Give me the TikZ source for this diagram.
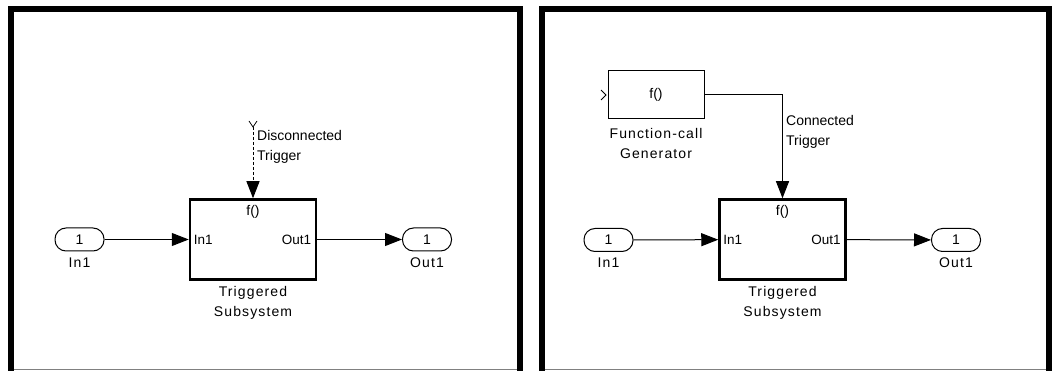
\documentclass[tikz,border=0pt]{standalone}
\usepackage{fontspec}
\setmainfont{Liberation Sans}
\newfontfamily\blockfont{Liberation Sans}[LetterSpace=8]
\usetikzlibrary{arrows.meta}
\tikzset{port/.style = {draw, line width=1pt, rounded corners=11pt,
                        minimum width=49pt, minimum height=23pt, inner sep=0}}
\tikzset{subsys/.style = {draw, line width=2.5pt, minimum width=126pt,
                          minimum height=80pt, inner sep=0}}
\tikzset{fcgbox/.style = {draw, line width=1pt, minimum width=96pt,
                          minimum height=48pt, inner sep=0}}
\tikzset{sig/.style = {line width=1pt, -{Triangle[length=17pt,width=13pt]}}}
\tikzset{panel/.style = {line width=6pt}}
\tikzset{lbl/.style = {font=\fontsize{14}{20}\selectfont, inner sep=1pt}}
\tikzset{blbl/.style = {font=\blockfont\fontsize{14}{20}\selectfont, inner sep=1pt}}
\tikzset{plbl/.style = {font=\fontsize{13.5}{16}\selectfont, inner sep=5pt}}

\begin{document}
\begin{tikzpicture}[x=1pt, y=-1pt]
    \useasboundingbox (0, 0) rectangle (1055, 371);
    % frames
    \draw [panel] (11, 380) -- (11, 9) -- (520, 9) -- (520, 380);
    \draw [gray, line width=1pt] (14, 369.5) -- (517, 369.5);
    \draw [panel] (542, 380) -- (542, 9) -- (1049, 9) -- (1049, 380);
    \draw [gray, line width=1pt] (545, 369.5) -- (1046, 369.5);

    % left: disconnected trigger
    \node [port, lbl] (inL) at (79.5, 239.5) {1};
    \node [blbl] (inLlab) at (79.5, 263) {In1};
    \node [subsys] (subL) at (253, 239.5) {};
    \node [plbl, anchor=west] (subLin) at (subL.west) {In1};
    \node [plbl, anchor=east, inner xsep=6pt] (subLout) at (subL.east) {Out1};
    \node [lbl] (subLf) at (253, 212) {f()};
    \node [blbl, align=center] (subLlab) at (253, 303) {Triggered\\Subsystem};
    \node [port, lbl] (outL) at (427, 239.5) {1};
    \node [blbl] (outLlab) at (427, 263) {Out1};
    \draw [sig] (inL) -- (subL);
    \draw [sig] (subL) -- (outL);
    \coordinate (trigL) at (253, 127);
    \draw [line width=0.8pt] (249, 121) -- (trigL) -- (257, 121);
    \draw [sig, dash pattern=on 3pt off 2pt] (trigL) -- (subL.north);
    \node [lbl, anchor=west, align=left] (trigLlab) at (256, 147) {Disconnected\\Trigger};

    % right: connected trigger
    \node [fcgbox, lbl] (fcg) at (656, 95) {f()};
    \draw [line width=0.8pt] (601, 90) -- (606, 95) -- (601, 100);
    \node [blbl, align=center] (fcglab) at (656, 143) {Function-call\\Generator};
    \node [port, lbl] (inR) at (608.5, 240) {1};
    \node [blbl] (inRlab) at (608.5, 263) {In1};
    \node [subsys] (subR) at (782.5, 239.5) {};
    \node [plbl, anchor=west] (subRin) at (subR.west) {In1};
    \node [plbl, anchor=east, inner xsep=6pt] (subRout) at (subR.east) {Out1};
    \node [lbl] (subRf) at (782.5, 212) {f()};
    \node [blbl, align=center] (subRlab) at (782.5, 303) {Triggered\\Subsystem};
    \node [port, lbl] (outR) at (956, 240) {1};
    \node [blbl] (outRlab) at (956, 263) {Out1};
    \draw [sig] (inR) -- (subR);
    \draw [sig] (subR) -- (outR);
    \draw [sig] (fcg.east) -| (subR.north);
    \node [lbl, anchor=west, align=left] (trigRlab) at (785, 132) {Connected\\Trigger};
\end{tikzpicture}
\end{document}
